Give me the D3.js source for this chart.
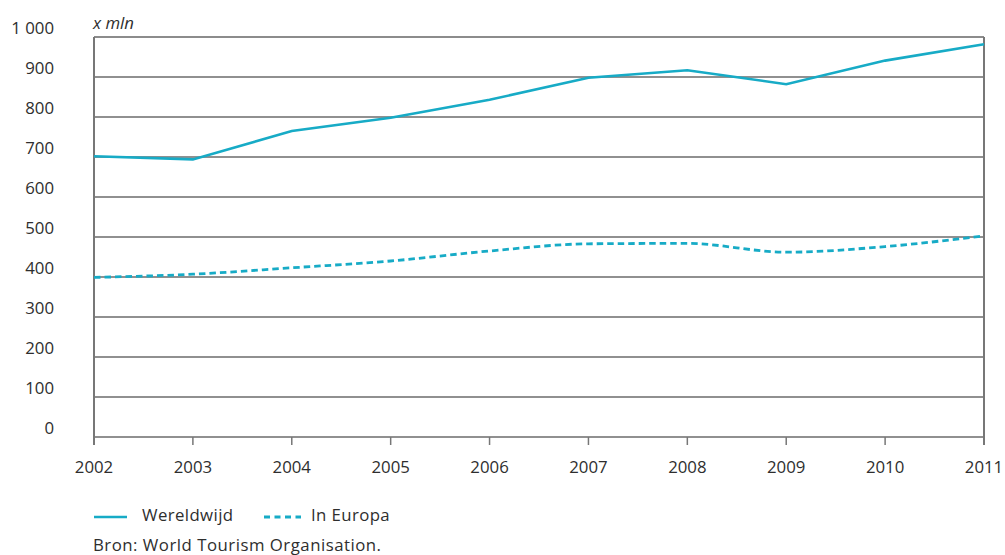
<!DOCTYPE html>
<html><head><meta charset="utf-8">
<script src="https://cdn.jsdelivr.net/npm/d3@7"></script>
<style>body{margin:0;background:#fff}svg{display:block}text{font-family:"Open Sans",sans-serif;fill:#2e2e2e}</style>
</head><body>
<svg id="c" width="1005" height="555"></svg>
<script>
const years = [2002,2003,2004,2005,2006,2007,2008,2009,2010,2011];
const wereldwijd = [702,694,765,798,843,898,917,882,941,982];
const europa = [399,407,423,440,465,483,484,462,476,503];
const yTicks = [0,100,200,300,400,500,600,700,800,900,1000];
const yTickLabels = ["0","100","200","300","400","500","600","700","800","900","1 000"];
const unitLabel = "x mln";
const seriesNames = ["Wereldwijd","In Europa"];
const sourceText = "Bron: World Tourism Organisation.";

const color = "#17abc6";
const fs = 16.8;
const svg = d3.select("#c");
const x = d3.scaleLinear().domain([2002,2011]).range([94,984]);
const y = d3.scaleLinear().domain([0,1000]).range([437,37]);

// grid
svg.append("g").selectAll("line").data(yTicks).join("line")
  .attr("x1",94).attr("x2",984).attr("y1",d=>y(d)).attr("y2",d=>y(d))
  .attr("stroke",d=>d===1000?"#666":"#222").attr("stroke-width",d=>d===1000?1.5:1.2);
// borders
svg.append("line").attr("x1",94).attr("x2",94).attr("y1",37).attr("y2",445).attr("stroke","#777").attr("stroke-width",2);
svg.append("line").attr("x1",984).attr("x2",984).attr("y1",37).attr("y2",445).attr("stroke","#777").attr("stroke-width",2);
// x ticks
svg.append("g").selectAll("line").data(years).join("line")
  .attr("x1",d=>x(d)).attr("x2",d=>x(d)).attr("y1",437).attr("y2",445).attr("stroke","#777").attr("stroke-width",1.5);
svg.append("g").selectAll("text").data(years).join("text")
  .attr("x",d=>x(d)).attr("y",472.5).attr("text-anchor","middle").attr("font-size",fs).text(d=>d);
// y labels
svg.append("g").selectAll("text").data(yTicks).join("text")
  .attr("x",54).attr("y",d=>y(d)-3.5).attr("text-anchor","end").attr("font-size",fs).text((d,i)=>yTickLabels[i]);
svg.append("text").attr("x",93).attr("y",29).attr("font-size",fs).attr("font-style","italic").text(unitLabel);

// lines
const lineW = d3.line().x((d,i)=>x(years[i])).y(d=>y(d));
svg.append("path").datum(wereldwijd).attr("d",lineW).attr("fill","none").attr("stroke",color).attr("stroke-width",2.6);
const lineE = d3.line().x((d,i)=>x(years[i])).y(d=>y(d)).curve(d3.curveMonotoneX);
svg.append("path").datum(europa).attr("d",lineE).attr("fill","none").attr("stroke",color).attr("stroke-width",2.8).attr("stroke-dasharray","6.5,4");

// legend
svg.append("line").attr("x1",94).attr("x2",127).attr("y1",517).attr("y2",517).attr("stroke",color).attr("stroke-width",2.6);
svg.append("text").attr("x",142).attr("y",520.5).attr("font-size",fs).attr("letter-spacing",0.4).text(seriesNames[0]);
svg.append("line").attr("x1",264).attr("x2",301).attr("y1",517).attr("y2",517).attr("stroke",color).attr("stroke-width",2.8).attr("stroke-dasharray","6,4.5");
svg.append("text").attr("x",311).attr("y",520.5).attr("font-size",fs).attr("letter-spacing",0.4).text(seriesNames[1]);
svg.append("text").attr("x",93).attr("y",551).attr("font-size",fs).attr("letter-spacing",0.5).text(sourceText);
</script>
</body></html>
